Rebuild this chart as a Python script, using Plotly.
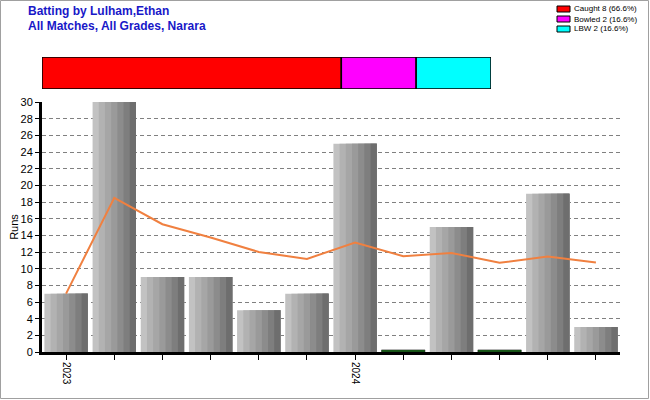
import plotly.graph_objects as go

# ---- data ----
match_index = list(range(12))
runs = [7, 30, 9, 9, 5, 7, 25, 0, 15, 0, 19, 3]
average_line = [7.0, 18.5, 15.33, 13.75, 12.0, 11.17, 13.14, 11.5, 11.89, 10.7, 11.45, 10.75]
tick_text = ["2023", "", "", "", "", "", "2024", "", "", "", "", ""]
dismissal_names = ["Caught", "Bowled", "LBW"]
dismissal_counts = [8, 2, 2]
dismissal_labels = ["Caught 8 (66.6%)", "Bowled 2 (16.6%)", "LBW 2 (16.6%)"]
dismissal_colors = ["#ff0000", "#ff00ff", "#00ffff"]
title_lines = ["Batting by Lulham,Ethan", "All Matches, All Grades, Narara"]

# ---- style ----
W, H = 650, 400
ML, MR, MT, MB = 42, 30, 57, 48
PW, PH = W - ML - MR, H - MT - MB
BW = 0.9
stripe_colors = ["#c2c2c2", "#b2b2b2", "#a6a6a6", "#9a9a9a", "#8c8c8c", "#7e7e7e", "#6e6e6e"]
DUCK_H = 0.25
FONT = "Liberation Sans, Arial, sans-serif"

def px_x(p):
    return (p - ML) / PW

def px_y(p):
    return (H - MB - p) / PH

fig = go.Figure()

# striped grey bars: each stripe spans from its start to the bar's right edge,
# drawn light to dark so later ones cover the earlier ones (no seams)
n = len(stripe_colors)
for k, c in enumerate(stripe_colors):
    fig.add_trace(go.Bar(
        x=match_index, y=runs, width=BW - k * BW / n, offset=-BW / 2 + k * BW / n,
        marker=dict(color=c, line=dict(width=0)), showlegend=False, hoverinfo="skip",
    ))

# ducks
duck_x = [i for i, r in zip(match_index, runs) if r == 0]
fig.add_trace(go.Bar(
    x=duck_x, y=[DUCK_H] * len(duck_x), width=BW,
    marker=dict(color="#1f6e1f", line=dict(color="#000000", width=0.5)),
    showlegend=False,
))

# average line
fig.add_trace(go.Scatter(
    x=match_index, y=average_line, mode="lines",
    line=dict(color="#f08040", width=2), showlegend=False,
))

# dismissal band
base = 0
for name, cnt, col in zip(dismissal_names, dismissal_counts, dismissal_colors):
    fig.add_trace(go.Bar(
        x=[cnt], y=[0], base=[base], orientation="h", width=1,
        marker=dict(color=col, line=dict(color="#000000", width=1.5)),
        xaxis="x2", yaxis="y2", showlegend=False, name=name,
    ))
    base += cnt

main_top = px_y(102)
fig.update_layout(
    width=W, height=H, margin=dict(l=ML, r=MR, t=MT, b=MB, autoexpand=False),
    paper_bgcolor="white", plot_bgcolor="white", barmode="overlay",
    font=dict(family=FONT, color="#000000"),
    xaxis=dict(
        range=[-0.5, 11.5], tickvals=match_index, ticktext=tick_text, tickangle=90,
        ticks="outside", ticklen=5, tickcolor="#000000", showgrid=False, zeroline=False,
        showline=True, linecolor="#000000", linewidth=3, tickfont=dict(size=10),
        automargin=False,
    ),
    yaxis=dict(
        domain=[0, main_top], range=[0, 30], dtick=2, ticks="outside", ticklen=4,
        tickcolor="#000000", showgrid=True, gridcolor="#808080", griddash="4px,3px",
        gridwidth=1, zeroline=False, showline=True, linecolor="#000000", linewidth=3,
        tickfont=dict(size=11), title=dict(text="Runs", font=dict(size=11), standoff=0),
        automargin=False,
    ),
    xaxis2=dict(domain=[0, px_x(491)], range=[0, sum(dismissal_counts)], visible=False,
                anchor="y2"),
    yaxis2=dict(domain=[px_y(89), 1], range=[-0.5, 0.5], visible=False, anchor="x2"),
)

shapes = []
annotations = []
# title
for i, line in enumerate(title_lines):
    annotations.append(dict(text="<b>" + line + "</b>", xref="paper", yref="paper",
                            x=px_x(26), y=px_y(11 + 15 * i), xanchor="left", yanchor="middle",
                            showarrow=False, font=dict(family=FONT, size=12, color="#1818c8")))
# manual legend
for i, (lab, col) in enumerate(zip(dismissal_labels, dismissal_colors)):
    cy = 9 + i * 10
    shapes.append(dict(type="rect", xref="paper", yref="paper",
                       x0=px_x(557), x1=px_x(570), y0=px_y(cy - 3), y1=px_y(cy + 3),
                       fillcolor=col, line=dict(color="#000000", width=1)))
    annotations.append(dict(text=lab, xref="paper", yref="paper", x=px_x(572), y=px_y(cy),
                            xanchor="left", yanchor="middle", showarrow=False,
                            font=dict(size=8, color="#000000")))
# outer border
shapes.append(dict(type="rect", xref="paper", yref="paper",
                   x0=px_x(0.5), x1=px_x(W - 1.5), y0=px_y(0.5), y1=px_y(H - 1.5),
                   line=dict(color="#a0a0a0", width=1), fillcolor="rgba(0,0,0,0)"))
fig.update_layout(shapes=shapes, annotations=annotations)

fig.write_html("out.html", config={"displayModeBar": False},
               post_script="document.body.style.margin='0';")
